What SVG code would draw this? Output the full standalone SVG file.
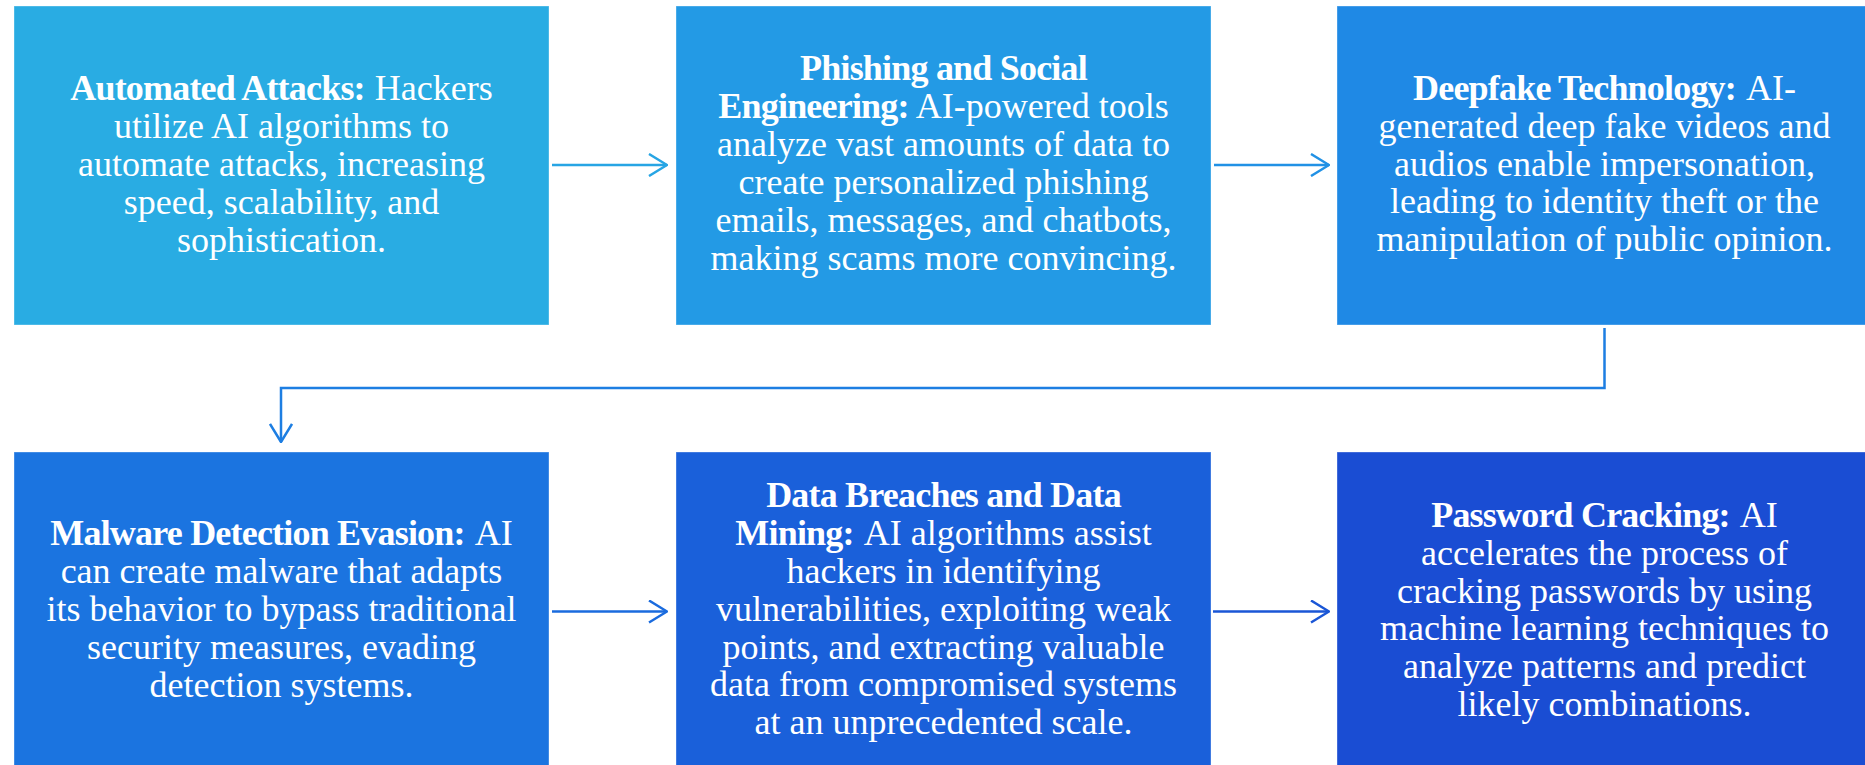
<svg xmlns="http://www.w3.org/2000/svg" width="1865" height="765" viewBox="0 0 1865 765">
  <style>
    .box { stroke: rgba(255,255,255,0.35); stroke-width: 1; }
    .txt { font-family: "Liberation Serif", "Times New Roman", serif; font-size: 36px; fill: #ffffff; text-anchor: middle; }
    .h { font-weight: bold; letter-spacing: -0.8px; }
    .conn { fill: none; stroke-width: 2.5; }
  </style>
  <defs>
    <marker id="m1" viewBox="0 0 20 24" refX="19" refY="12" markerWidth="20" markerHeight="24" markerUnits="userSpaceOnUse" orient="auto">
      <path d="M1,1 L19,12 L1,23" fill="none" stroke="#27A5E4" stroke-width="2.5"/>
    </marker>
    <marker id="m2" viewBox="0 0 20 24" refX="19" refY="12" markerWidth="20" markerHeight="24" markerUnits="userSpaceOnUse" orient="auto">
      <path d="M1,1 L19,12 L1,23" fill="none" stroke="#2191E5" stroke-width="2.5"/>
    </marker>
    <marker id="m3" viewBox="0 0 20 24" refX="19" refY="12" markerWidth="20" markerHeight="24" markerUnits="userSpaceOnUse" orient="auto">
      <path d="M1,1 L19,12 L1,23" fill="none" stroke="#1D7EE2" stroke-width="2.5"/>
    </marker>
    <marker id="m4" viewBox="0 0 20 24" refX="19" refY="12" markerWidth="20" markerHeight="24" markerUnits="userSpaceOnUse" orient="auto">
      <path d="M1,1 L19,12 L1,23" fill="none" stroke="#1A6BDE" stroke-width="2.5"/>
    </marker>
    <marker id="m5" viewBox="0 0 20 24" refX="19" refY="12" markerWidth="20" markerHeight="24" markerUnits="userSpaceOnUse" orient="auto">
      <path d="M1,1 L19,12 L1,23" fill="none" stroke="#1A56D6" stroke-width="2.5"/>
    </marker>
  </defs>
  <rect width="1865" height="765" fill="#ffffff"/>

  <g id="connectors">
    <line class="conn" x1="552" y1="165" x2="667" y2="165" stroke="#27A5E4" marker-end="url(#m1)"/>
    <line class="conn" x1="1214" y1="165" x2="1329" y2="165" stroke="#2191E5" marker-end="url(#m2)"/>
    <path class="conn" d="M1604.5,328 V388 H281 V442" stroke="#1D7EE2" marker-end="url(#m3)"/>
    <line class="conn" x1="552" y1="611.5" x2="667" y2="611.5" stroke="#1A6BDE" marker-end="url(#m4)"/>
    <line class="conn" x1="1213" y1="611.5" x2="1329" y2="611.5" stroke="#1A56D6" marker-end="url(#m5)"/>
  </g>

  <g id="node-automated-attacks">
    <rect class="box" x="14" y="6" width="535" height="319" fill="#29ACE3"/>
    <text class="txt" x="281.5" y="99.5"><tspan class="h">Automated Attacks:</tspan><tspan dx="10">Hackers</tspan></text>
    <text class="txt" x="281.5" y="137.6">utilize AI algorithms to</text>
    <text class="txt" x="281.5" y="175.7">automate attacks, increasing</text>
    <text class="txt" x="281.5" y="213.8">speed, scalability, and</text>
    <text class="txt" x="281.5" y="251.9">sophistication.</text>
  </g>

  <g id="node-phishing">
    <rect class="box" x="676" y="6" width="535" height="319" fill="#239AE5"/>
    <text class="txt" x="943.5" y="80"><tspan class="h">Phishing and Social</tspan></text>
    <text class="txt" x="943.5" y="117.9"><tspan class="h">Engineering:</tspan> AI-powered tools</text>
    <text class="txt" x="943.5" y="155.8">analyze vast amounts of data to</text>
    <text class="txt" x="943.5" y="193.7">create personalized phishing</text>
    <text class="txt" x="943.5" y="231.6">emails, messages, and chatbots,</text>
    <text class="txt" x="943.5" y="269.5">making scams more convincing.</text>
  </g>

  <g id="node-deepfake">
    <rect class="box" x="1337" y="6" width="535" height="319" fill="#1F89E5"/>
    <text class="txt" x="1604.5" y="100"><tspan class="h">Deepfake Technology:</tspan><tspan dx="10">AI-</tspan></text>
    <text class="txt" x="1604.5" y="137.8">generated deep fake videos and</text>
    <text class="txt" x="1604.5" y="175.6">audios enable impersonation,</text>
    <text class="txt" x="1604.5" y="213.4">leading to identity theft or the</text>
    <text class="txt" x="1604.5" y="251.2">manipulation of public opinion.</text>
  </g>

  <g id="node-malware">
    <rect class="box" x="14" y="452" width="535" height="320" fill="#1B74E0"/>
    <text class="txt" x="281.5" y="545"><tspan class="h">Malware Detection Evasion:</tspan><tspan dx="10">AI</tspan></text>
    <text class="txt" x="281.5" y="583">can create malware that adapts</text>
    <text class="txt" x="281.5" y="621">its behavior to bypass traditional</text>
    <text class="txt" x="281.5" y="659">security measures, evading</text>
    <text class="txt" x="281.5" y="697">detection systems.</text>
  </g>

  <g id="node-data-breaches">
    <rect class="box" x="676" y="452" width="535" height="320" fill="#1A60DA"/>
    <text class="txt" x="943.5" y="507.3"><tspan class="h">Data Breaches and Data</tspan></text>
    <text class="txt" x="943.5" y="545.1"><tspan class="h">Mining:</tspan><tspan dx="10">AI algorithms assist</tspan></text>
    <text class="txt" x="943.5" y="582.9">hackers in identifying</text>
    <text class="txt" x="943.5" y="620.7">vulnerabilities, exploiting weak</text>
    <text class="txt" x="943.5" y="658.5">points, and extracting valuable</text>
    <text class="txt" x="943.5" y="696.3">data from compromised systems</text>
    <text class="txt" x="943.5" y="734.1">at an unprecedented scale.</text>
  </g>

  <g id="node-password">
    <rect class="box" x="1337" y="452" width="535" height="320" fill="#1A4DD3"/>
    <text class="txt" x="1604.5" y="527.3"><tspan class="h">Password Cracking:</tspan><tspan dx="10">AI</tspan></text>
    <text class="txt" x="1604.5" y="565">accelerates the process of</text>
    <text class="txt" x="1604.5" y="602.7">cracking passwords by using</text>
    <text class="txt" x="1604.5" y="640.4">machine learning techniques to</text>
    <text class="txt" x="1604.5" y="678.1">analyze patterns and predict</text>
    <text class="txt" x="1604.5" y="715.8">likely combinations.</text>
  </g>
</svg>
